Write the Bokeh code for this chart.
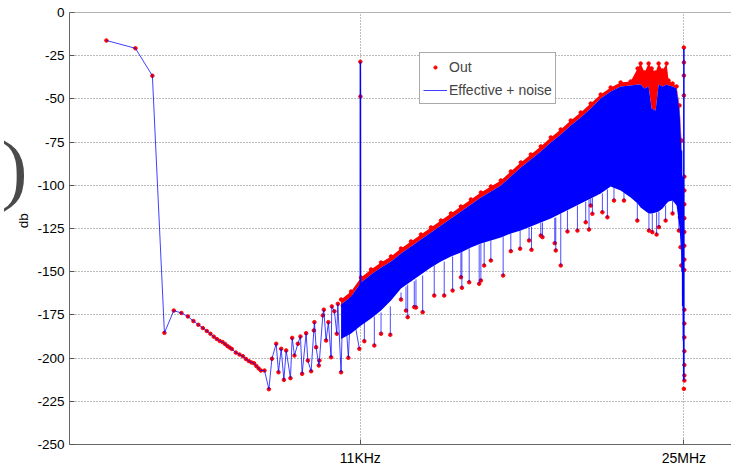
from bokeh.plotting import figure
from bokeh.layouts import row
from bokeh.models import FixedTicker, Span, Legend, LegendItem
from bokeh.core.properties import value
from bokeh.embed import file_html
from bokeh.resources import INLINE

# ---------------- data ----------------
bin_hz = 25.5  # FFT bin spacing
low_bins = [1, 2, 3, 4, 5, 6, 7, 8, 9, 10, 11, 12, 13, 14, 15, 16, 17, 18, 19, 20,
            22, 24, 26, 28, 30, 32, 34, 36, 38, 40]
low_db = [-16.2, -20.7, -36.6, -185.4, -172.5, -173.9, -175.9, -178.6, -180.7, -182.6,
          -184.3, -185.9, -187.6, -189.0, -190.1, -190.7, -191.8, -193.0, -193.9, -194.7,
          -196.8, -197.9, -198.9, -200.5, -201.7, -202.5, -203.0, -204.6, -206.0, -207.2]

zig_f = [1114, 1237, 1329, 1473, 1556, 1659, 1769, 1870, 2071, 2157, 2279, 2471, 2629,
         2738, 3012, 3137, 3394, 3620, 3672, 3823, 4077, 4136, 4485, 4594, 4853, 5127,
         5467, 5561, 5918, 6266, 6417, 6942, 7229, 7822, 8262, 8812, 9534, 10740]
zig_db = [-207.2, -218.0, -200.4, -191.7, -208.2, -194.6, -212.6, -195.6, -211.6, -188.3,
          -198.5, -191.7, -187.5, -209.1, -185.6, -201.4, -207.6, -184.0, -179.2, -193.7,
          -204.3, -201.4, -175.3, -172.0, -189.8, -179.2, -199.5, -170.1, -172.9, -185.9,
          -168.6, -208.2, -169.6, -180.2, -199.8, -164.8, -178.2, -194.6]

band_f = [6942, 8812, 11185, 14200, 18028, 22883, 29045, 36867, 46799, 59405,
          75410, 95722, 121500, 154230, 195760, 248500, 315430, 400400, 508250, 645130,
          818900, 1.0398e6, 1.3196e6, 1.6752e6, 2.1264e6, 2.6993e6, 3.4263e6, 4.3493e6,
          5.5208e6, 7.0081e6, 8.282e6, 8.8956e6, 9.789e6, 1.077e7, 1.1568e7, 1.2727e7,
          1.3671e7, 1.504e7, 1.6546e7, 1.7355e7, 1.9091e7, 2.1004e7, 2.2556e7, 2.3656e7]
band_top = [-169.0, -164.4, -156.2, -151.6, -147.6, -144.1, -139.5, -135.4, -131.4, -127.3,
            -123.3, -119.2, -115.2, -111.1, -107.1, -103.6, -100.1, -94.9, -89.7, -85.1,
            -80.4, -75.2, -70.6, -65.4, -60.8, -55.6, -49.8, -45.7, -42.8, -42.2,
            -41.7, -41.7, -44.0, -42.8, -55.6, -56.7, -41.7, -42.8, -41.7, -42.2, -42.8,
            -44.0, -56.7, -79.9]
band_low = [-189.0, -185.8, -181.1, -177.1, -172.5, -166.7, -159.7, -155.7, -151.6, -147.6,
            -144.1, -141.2, -138.9, -136.0, -133.7, -131.9, -130.2, -127.9, -126.2, -123.8,
            -121.5, -119.2, -116.3, -113.4, -110.5, -107.6, -104.7, -100.7, -103.0, -107.1,
            -110.5, -112.8, -114.6, -116.3, -116.3, -115.7, -115.2, -113.4, -110.5, -109.4,
            -108.8, -111.7, -124.4, -143.5]
out_top = [-166.1, -161.5, -153.4, -148.7, -144.7, -141.2, -136.6, -132.5, -128.5, -124.4,
           -120.4, -116.3, -112.3, -108.2, -104.2, -100.7, -97.2, -92.0, -86.8, -82.2,
           -77.5, -72.3, -67.7, -62.5, -57.9, -52.7, -47.5, -43.4, -40.5, -39.9,
           -32.4, -29.5, -34.7, -29.5, -32.4, -34.7, -29.5, -33.6, -29.5, -39.4, -41.1,
           -42.8, -53.8, -74.1]

hair_f = [12100, 15360, 18030, 22500, 29050, 32720, 34070, 39890, 41540, 48730, 64270,
          81540, 99680, 121500, 124400, 148100, 188000, 195800, 211800, 248500, 333300,
          400400, 499900, 619500, 656100, 818900, 853000, 1.144e6, 1.172e6, 1.320e6,
          1.549e6, 1.966e6, 2.396e6, 2.593e6, 2.699e6, 2.811e6, 3.568e6, 4.022e6, 4.707e6,
          5.975e6, 8.223e6, 1.085e7, 1.176e7, 1.303e7, 1.377e7, 1.616e7, 1.909e7, 2.218e7]
hair_start = [-179.4, -175.9, -173.6, -170.1, -162.0, -158.6, -157.5, -155.5, -154.5,
              -152.2, -146.4, -144.1, -141.2, -139.0, -138.3, -136.6, -134.3, -133.7,
              -133.0, -131.9, -129.6, -127.9, -126.2, -124.4, -124.0, -121.7, -121.5,
              -118.9, -118.6, -116.3, -114.6, -111.7, -109.4, -108.2, -107.6, -107.1,
              -104.7, -102.4, -100.7, -104.2, -110.0, -116.3, -116.3, -115.7, -115.2,
              -111.7, -108.8, -117.5]
hair_end = [-190.2, -192.7, -185.9, -186.5, -166.1, -172.5, -176.3, -170.5, -170.7, -173.4,
            -163.8, -163.8, -160.9, -153.2, -159.3, -156.1, -157.0, -155.1, -146.4, -143.5,
            -152.2, -138.1, -136.7, -131.9, -137.3, -129.1, -130.0, -133.5, -137.7, -146.4,
            -126.7, -126.2, -121.4, -125.6, -111.7, -116.5, -115.6, -118.5, -108.8, -108.8,
            -120.4, -126.2, -127.1, -128.5, -124.2, -120.4, -116.3, -126.2]

tone_f = [10990, 11000, 11025, 11060]
tone_db = [-160.0, -28.5, -48.6, -160.0]

nyq_f = [2.3656e7, 2.39e7, 2.41e7, 2.43e7, 2.45e7, 2.47e7, 2.48e7, 2.49e7, 2.5e7, 2.5e7]
nyq_db = [-79.9, -150.0, -95.0, -170.0, -120.0, -190.0, -150.0, -213.0, -21.0, -213.0]
nyq_out_f = [2.272e7, 2.31e7, 2.35e7, 2.5e7, 2.5e7, 2.5e7, 2.5e7, 2.5e7,
             2.53e7, 2.53e7, 2.53e7, 2.53e7, 2.53e7, 2.53e7, 2.53e7, 2.53e7,
             2.53e7, 2.53e7, 2.53e7, 2.53e7, 2.53e7, 2.53e7, 2.53e7]
nyq_out_db = [-118.5, -135.8, -146.4, -20.3, -28.9, -36.5, -48.0, -217.8,
              -95, -103, -111, -119, -127, -135, -143, -149,
              -172, -180, -188, -196, -204, -210, -213]

y_ticks = [-250, -225, -200, -175, -150, -125, -100, -75, -50, -25, 0]
x_ticks = [11000, 25000000]
x_labels = ["11KHz", "25MHz"]
y_title = "db"

# ---------------- figure ----------------
FONT = "Liberation Sans"
RED = "#ff0000"
BLUE = "#0000ff"

p = figure(width=697, height=469, x_axis_type="log", x_range=(10.56, 7.8e7),
           y_range=(-250, 0), output_backend="svg", toolbar_location=None,
           min_border_left=34, min_border_right=0, min_border_top=12, min_border_bottom=25)
p.outline_line_color = None
p.background_fill_color = "white"

low_f = [k * bin_hz for k in low_bins]
eff_f = low_f + zig_f
eff_db = low_db + zig_db

# Out (red) drawn first
p.varea(x=band_f, y1=band_top, y2=out_top, fill_color=RED)
out_r = p.scatter(eff_f, eff_db, size=3.5, color=RED)
p.scatter(band_f, out_top, size=3.5, color=RED)
p.scatter(hair_f, hair_end, size=3.5, color=RED)
p.scatter(tone_f[1:3], tone_db[1:3], size=3.5, color=RED)
p.scatter(nyq_out_f, nyq_out_db, size=3.5, color=RED)

# Effective + noise (blue)
p.varea(x=band_f, y1=band_low, y2=band_top, fill_color=BLUE)
p.segment(x0=hair_f, y0=hair_start, x1=hair_f, y1=hair_end, line_color=BLUE,
          line_width=1, line_alpha=0.7)
eff_r = p.line(eff_f, eff_db, line_color=BLUE, line_width=1, line_alpha=0.75)
p.line(tone_f, tone_db, line_color=BLUE, line_width=1.5)
p.line(nyq_f, nyq_db, line_color=BLUE, line_width=1.5)

# top border
p.add_layout(Span(location=0, dimension="width", line_color="#666666", line_width=1))

# axes
for ax in (p.xaxis[0], p.yaxis[0]):
    ax.axis_line_color = "#666666"
    ax.major_tick_line_color = "#555555"
    ax.major_tick_in = 5
    ax.major_tick_out = 0
    ax.minor_tick_line_color = None
    ax.major_label_text_font = FONT
    ax.major_label_text_color = "black"

p.yaxis.ticker = FixedTicker(ticks=y_ticks)
p.yaxis.major_label_overrides = {t: str(t) for t in y_ticks}
p.yaxis.major_label_text_font_size = "13.5px"
p.yaxis.major_label_standoff = 5

p.xaxis.ticker = FixedTicker(ticks=x_ticks)
p.xaxis.major_label_overrides = dict(zip(x_ticks, x_labels))
p.xaxis.major_label_text_font_size = "14px"
p.xaxis.major_label_standoff = 5

for g in (p.xgrid[0], p.ygrid[0]):
    g.grid_line_color = "#7a7a7a"
    g.grid_line_dash = "1 2"
    g.grid_line_width = 1

legend = Legend(items=[LegendItem(label="Out", renderers=[out_r]),
                       LegendItem(label="Effective + noise", renderers=[eff_r])],
                location=(350, 340))
legend.label_text_font = FONT
legend.label_text_font_size = "14px"
legend.border_line_color = "#555555"
legend.border_line_width = 1
legend.background_fill_color = "white"
legend.background_fill_alpha = 1
legend.padding = 3
legend.spacing = 2
legend.margin = 0
legend.glyph_width = 24
legend.glyph_height = 8
legend.label_height = 21
legend.label_standoff = 2
p.add_layout(legend)

# left strip: y-axis title and the large bracket
side = figure(width=34, height=469, x_range=(0, 1), y_range=(0, 1),
              output_backend="svg", toolbar_location=None,
              x_axis_location=None, y_axis_location=None,
              min_border_left=0, min_border_right=0, min_border_top=0, min_border_bottom=0)
side.outline_line_color = None
side.xgrid.visible = False
side.ygrid.visible = False
side.text(x=[0.676], y=[0.518], text=[y_title], angle=1.5708,
          text_font=value(FONT), text_font_size="13.5px", text_color="black",
          text_align="center", text_baseline="middle")
side.text(x=[0.41], y=[0.64], text=[")"], text_font=value("DejaVu Sans ExtraLight"),
          text_font_size="78px", text_color="#4a4a4a",
          text_align="center", text_baseline="middle")

layout = row(side, p)
open("out.html", "w").write(file_html(layout, INLINE))
